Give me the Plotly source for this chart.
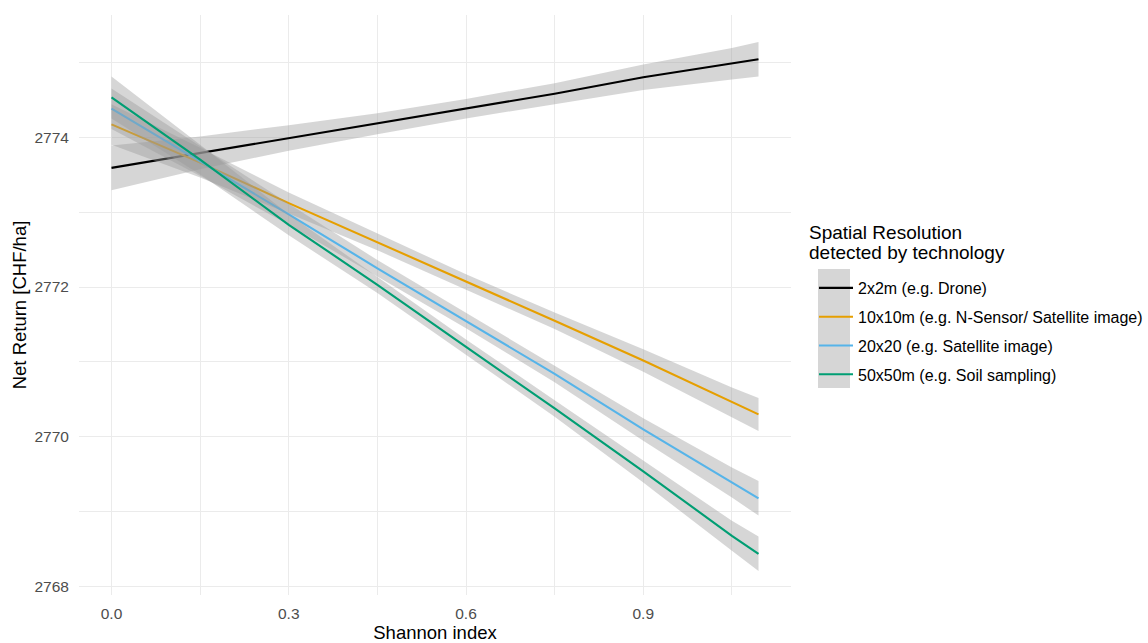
import plotly.graph_objects as go

# ---- data ----
shannon = [0.0, 0.15, 0.3, 0.45, 0.6, 0.75, 0.9, 1.05, 1.095]

series_names = [
    "2x2m (e.g. Drone)",
    "10x10m (e.g. N-Sensor/ Satellite image)",
    "20x20 (e.g. Satellite image)",
    "50x50m (e.g. Soil sampling)",
]
legend_title_lines = ["Spatial Resolution", "detected by technology"]

drone_fit = [2773.59, 2773.79, 2773.99, 2774.18, 2774.38, 2774.58, 2774.80, 2774.98, 2775.04]
nsensor_fit = [2774.17, 2773.66, 2773.12, 2772.60, 2772.07, 2771.55, 2771.02, 2770.46, 2770.30]
satellite_fit = [2774.38, 2773.68, 2772.97, 2772.25, 2771.55, 2770.84, 2770.10, 2769.39, 2769.18]
soil_fit = [2774.53, 2773.70, 2772.83, 2772.03, 2771.20, 2770.38, 2769.54, 2768.68, 2768.44]

drone_se = [0.30, 0.22, 0.17, 0.14, 0.13, 0.14, 0.17, 0.21, 0.23]
nsensor_se = [0.27, 0.20, 0.14, 0.11, 0.10, 0.11, 0.15, 0.20, 0.22]
satellite_se = [0.27, 0.20, 0.14, 0.11, 0.10, 0.11, 0.15, 0.20, 0.23]
soil_se = [0.28, 0.20, 0.14, 0.11, 0.10, 0.11, 0.15, 0.20, 0.23]

colors = ["#000000", "#E69F00", "#56B4E9", "#009E73"]

x_ticks = [0.0, 0.3, 0.6, 0.9]
y_ticks = [2768, 2770, 2772, 2774]

fits = [drone_fit, nsensor_fit, satellite_fit, soil_fit]
ses = [drone_se, nsensor_se, satellite_se, soil_se]

FONT = "Liberation Sans, Arial, sans-serif"

fig = go.Figure()
for name, fit, se, col in zip(series_names, fits, ses, colors):
    upper = [f + s for f, s in zip(fit, se)]
    lower = [f - s for f, s in zip(fit, se)]
    fig.add_trace(go.Scatter(
        x=shannon + shannon[::-1],
        y=upper + lower[::-1],
        fill="toself",
        fillcolor="rgba(153,153,153,0.4)",
        line=dict(width=0),
        mode="lines",
        hoverinfo="skip",
        showlegend=False,
        legendgroup=name,
    ))
    fig.add_trace(go.Scatter(
        x=shannon, y=fit, mode="lines", name=name,
        line=dict(color=col, width=2.1),
        legendgroup=name,
    ))

L, R, T, B = 79, 357, 15, 48
W, H = 1148, 643
pw, ph = W - L - R, H - T - B

def px_x(p):
    return (p - L) / pw

def px_y(p):
    return (H - B - p) / ph

# grey background behind legend keys (ggplot-style key fill)
fig.add_shape(type="rect", xref="paper", yref="paper",
              x0=px_x(818), x1=px_x(850), y0=px_y(388), y1=px_y(269),
              fillcolor="rgba(153,153,153,0.4)", line=dict(width=0), layer="below")

# legend title (two lines, tight ggplot spacing)
for txt, ypx in zip(legend_title_lines, [232, 252]):
    fig.add_annotation(text=txt, xref="paper", yref="paper",
                       x=px_x(807), y=px_y(ypx), xanchor="left", yanchor="middle",
                       showarrow=False, font=dict(size=19, color="#000000", family=FONT))

fig.update_layout(
    width=W, height=H,
    margin=dict(l=L, r=R, t=T, b=B, autoexpand=False),
    paper_bgcolor="white", plot_bgcolor="white",
    font=dict(family=FONT, size=15.5, color="#000000"),
    legend=dict(
        x=px_x(814), xanchor="left",
        y=px_y(271), yanchor="top",
        bgcolor="rgba(0,0,0,0)",
        font=dict(size=16, color="#000000"),
        tracegroupgap=5,
        itemwidth=34,
    ),
    xaxis=dict(
        range=[-0.055, 1.15], automargin=False,
        tickvals=x_ticks, ticktext=[f"{v:.1f}" for v in x_ticks],
        showgrid=True, gridcolor="#ebebeb", gridwidth=1.1,
        minor=dict(dtick=0.15, tick0=0.15, showgrid=True, gridcolor="#ebebeb", gridwidth=0.6),
        zeroline=False, showline=False,
        ticks="outside", ticklen=4, tickcolor="rgba(0,0,0,0)",
        tickfont=dict(size=15.5, color="#4d4d4d"),
        title=dict(text="Shannon index", font=dict(size=18.5, color="#000000"), standoff=2),
    ),
    yaxis=dict(
        range=[2767.89, 2775.63], automargin=False,
        tickvals=y_ticks, ticktext=[str(v) for v in y_ticks],
        showgrid=True, gridcolor="#ebebeb", gridwidth=1.1,
        minor=dict(dtick=1, tick0=2769, showgrid=True, gridcolor="#ebebeb", gridwidth=0.6),
        zeroline=False, showline=False,
        ticks="outside", ticklen=6, tickcolor="rgba(0,0,0,0)",
        tickfont=dict(size=15.5, color="#4d4d4d"),
        title=dict(text="Net Return [CHF/ha]", font=dict(size=18.5, color="#000000"), standoff=2),
    ),
)

# remove the browser's default 8px body margin so the figure fills the window exactly
fig.write_html("out.html", config={"displayModeBar": False},
               post_script="document.body.style.margin='0';")
